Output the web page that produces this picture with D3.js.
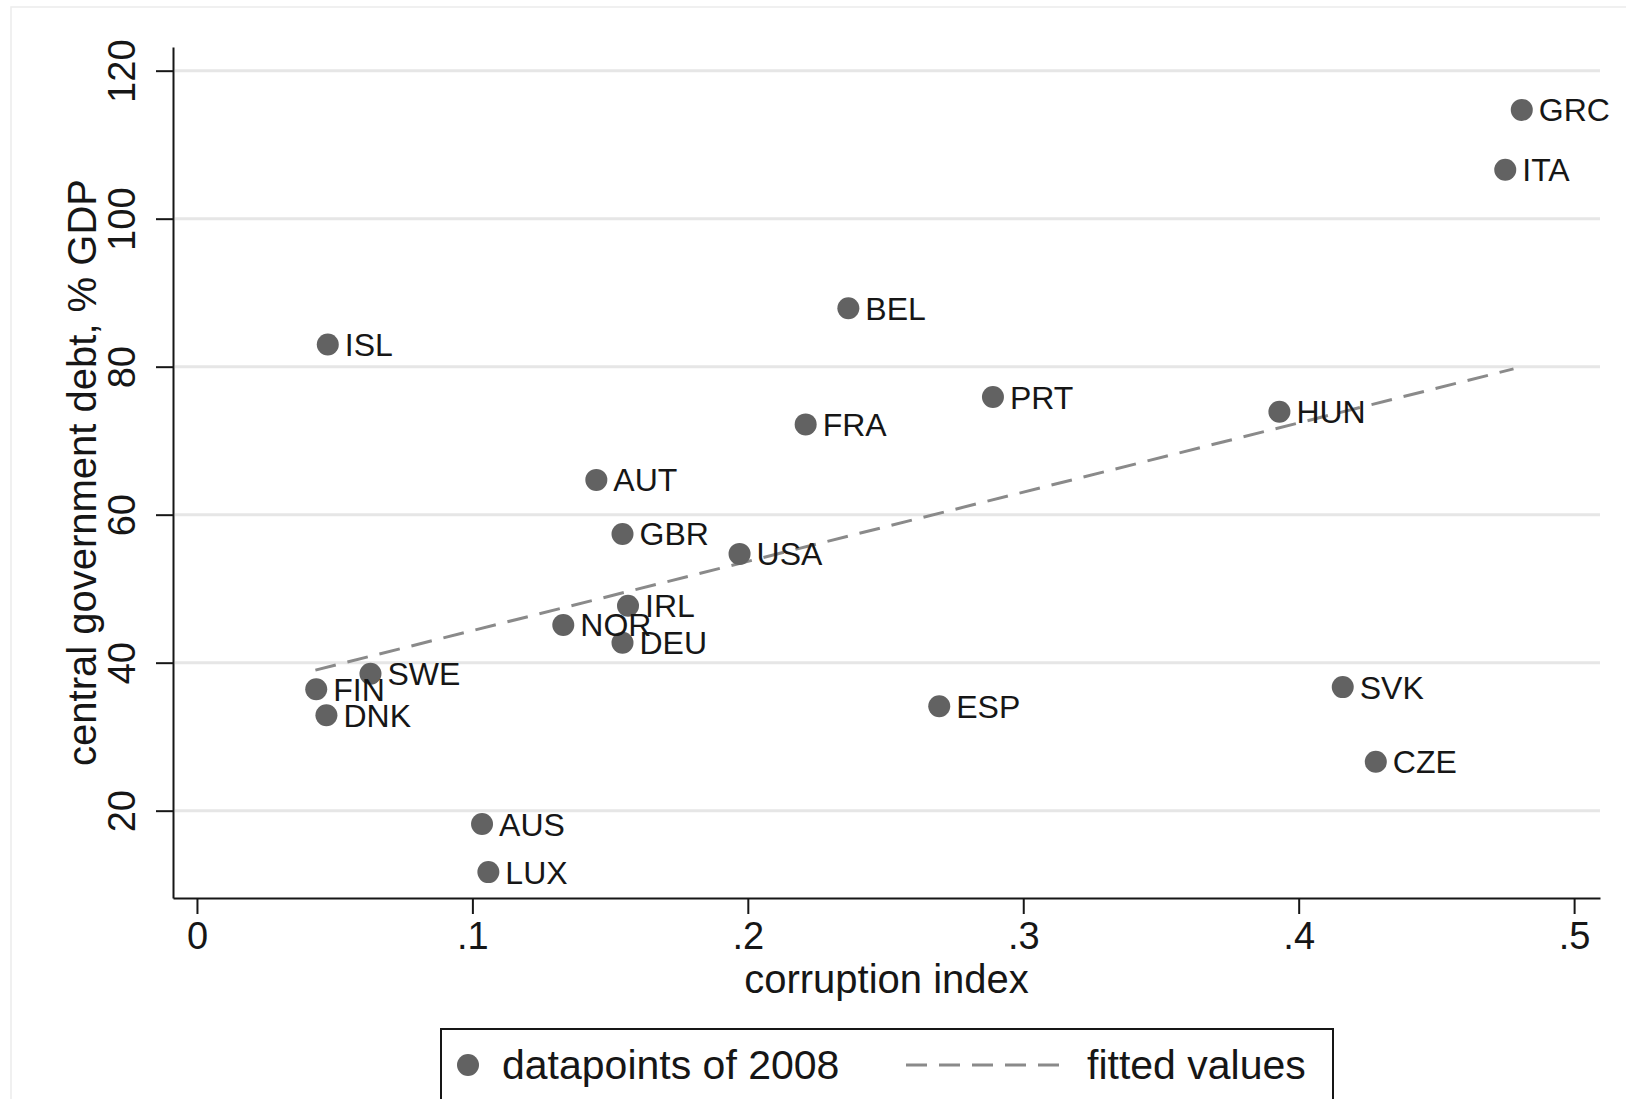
<!DOCTYPE html>
<html>
<head>
<meta charset="utf-8">
<script src="https://cdn.jsdelivr.net/npm/d3@7"></script>
<style>
  html, body { margin: 0; padding: 0; background: #fff; }
  svg { display: block; font-family: "Liberation Sans", Arial, Helvetica, sans-serif; }
</style>
</head>
<body>
<svg id="chart" width="1626" height="1099"></svg>
<script>
// Country codes with corruption index and central government debt (% GDP), 2008
const countries  = ["GRC", "ITA", "BEL", "ISL", "PRT", "HUN", "FRA", "AUT", "GBR", "USA", "IRL",
                    "NOR", "DEU", "SWE", "FIN", "DNK", "ESP", "SVK", "CZE", "AUS", "LUX"];
const corruption = [0.481, 0.475, 0.2365, 0.0475, 0.289, 0.393, 0.221, 0.145, 0.1545, 0.197, 0.1565,
                    0.133, 0.1545, 0.063, 0.0433, 0.047, 0.2695, 0.416, 0.428, 0.1035, 0.1058];
const debt       = [114.7, 106.6, 87.9, 83.0, 75.9, 73.9, 72.2, 64.7, 57.4, 54.7, 47.7,
                    45.1, 42.7, 38.5, 36.4, 32.9, 34.1, 36.7, 26.6, 18.2, 11.7];

// Linear fit endpoints (fitted values)
const fitX = [0.043, 0.478];
const fitY = [39.0, 79.7];

// Axis ticks
const xTicks = [0, 0.1, 0.2, 0.3, 0.4, 0.5];
const yTicks = [20, 40, 60, 80, 100, 120];

// Legend entries
const legendLabels = ["datapoints of 2008", "fitted values"];

const svg = d3.select("#chart");

const x = d3.scaleLinear().domain([-0.0087, 0.5094]).range([173, 1600]);
const y = d3.scaleLinear().domain([8.2, 123.2]).range([898, 47]);

const markerColor = "#626262";
const fitColor = "#8a8a8a";
const inkColor = "#161616";

// outer graph frame
svg.append("rect")
  .attr("x", 11).attr("y", 7)
  .attr("width", 1640).attr("height", 1200)
  .attr("fill", "none").attr("stroke", "#ececec").attr("stroke-width", 1.5);

// horizontal grid lines
svg.append("g").selectAll("line")
  .data(yTicks).join("line")
  .attr("x1", x.range()[0] + 2).attr("x2", x.range()[1])
  .attr("y1", d => y(d)).attr("y2", d => y(d))
  .attr("stroke", "#e6e6e6").attr("stroke-width", 3);

// x axis
const xAxis = svg.append("g")
  .attr("transform", `translate(0,${y.range()[0]})`)
  .call(d3.axisBottom(x).tickValues(xTicks).tickSize(16).tickSizeOuter(0).tickPadding(8)
    .tickFormat(d => d === 0 ? "0" : d3.format(".1f")(d).replace(/^0/, "")));
xAxis.select(".domain").attr("stroke", inkColor).attr("stroke-width", 2);
xAxis.selectAll(".tick line").attr("stroke", inkColor).attr("stroke-width", 2);
xAxis.selectAll(".tick text").attr("font-size", 38).attr("fill", inkColor)
  .attr("font-family", "Liberation Sans, Arial, sans-serif");

// y axis
const yAxis = svg.append("g")
  .attr("transform", `translate(${x.range()[0]},0)`)
  .call(d3.axisLeft(y).tickValues(yTicks).tickSize(17).tickSizeOuter(0));
yAxis.select(".domain").attr("stroke", inkColor).attr("stroke-width", 2);
yAxis.selectAll(".tick line").attr("stroke", inkColor).attr("stroke-width", 2);
yAxis.selectAll(".tick text")
  .attr("font-size", 38).attr("fill", inkColor)
  .attr("font-family", "Liberation Sans, Arial, sans-serif")
  .attr("transform", "rotate(-90)")
  .attr("x", 0).attr("y", -38).attr("dy", 0)
  .attr("text-anchor", "middle");

// axis titles
svg.append("text")
  .attr("x", (x.range()[0] + x.range()[1]) / 2).attr("y", 993)
  .attr("text-anchor", "middle").attr("font-size", 40).attr("fill", inkColor)
  .text("corruption index");

svg.append("text")
  .attr("transform", `translate(96,${(y.range()[0] + y.range()[1]) / 2}) rotate(-90)`)
  .attr("text-anchor", "middle").attr("font-size", 40).attr("fill", inkColor)
  .text("central government debt, % GDP");

// fitted line
svg.append("path")
  .datum(fitX.map((v, i) => [v, fitY[i]]))
  .attr("d", d3.line().x(d => x(d[0])).y(d => y(d[1])))
  .attr("fill", "none").attr("stroke", fitColor).attr("stroke-width", 3)
  .attr("stroke-dasharray", "21,12");

// data points
const pts = countries.map((c, i) => ({ c, cx: corruption[i], d: debt[i] }));
svg.append("g").selectAll("circle")
  .data(pts).join("circle")
  .attr("cx", d => x(d.cx)).attr("cy", d => y(d.d)).attr("r", 11)
  .attr("fill", markerColor);

// country labels at 3 o'clock
svg.append("g").selectAll("text")
  .data(pts).join("text")
  .attr("x", d => x(d.cx) + 17).attr("y", d => y(d.d)).attr("dy", "0.36em")
  .attr("font-size", 32).attr("fill", inkColor)
  .text(d => d.c);

// legend
const lg = svg.append("g");
lg.append("rect")
  .attr("x", 441).attr("y", 1029).attr("width", 892).attr("height", 120)
  .attr("fill", "#fff").attr("stroke", inkColor).attr("stroke-width", 2);
lg.append("circle").attr("cx", 468).attr("cy", 1065).attr("r", 11).attr("fill", markerColor);
lg.append("text").attr("x", 502).attr("y", 1079).attr("font-size", 41).attr("fill", inkColor)
  .text(legendLabels[0]);
lg.append("line").attr("x1", 906).attr("x2", 1064).attr("y1", 1065).attr("y2", 1065)
  .attr("stroke", fitColor).attr("stroke-width", 3).attr("stroke-dasharray", "21,12");
lg.append("text").attr("x", 1087).attr("y", 1079).attr("font-size", 41).attr("fill", inkColor)
  .text(legendLabels[1]);
</script>
</body>
</html>
